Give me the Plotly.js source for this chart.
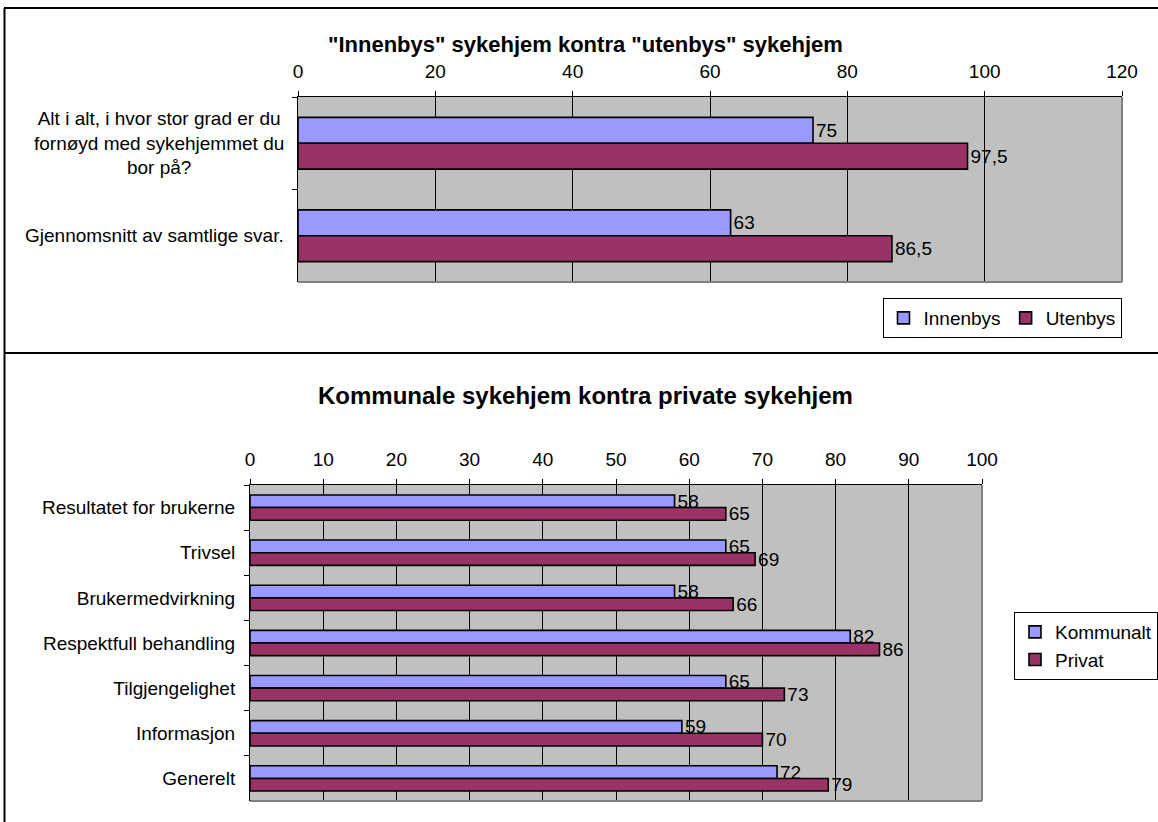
<!DOCTYPE html>
<html><head><meta charset="utf-8">
<script src="https://cdn.plot.ly/plotly-3.0.1.min.js"></script>
<style>html,body{margin:0;padding:0;background:#fff;overflow:hidden}#chart{width:1158px;height:822px}</style>
</head><body><div id="chart"></div>
<script>
// ---- data ----
const topTitle = '"Innenbys" sykehjem kontra "utenbys" sykehjem';
const topCategories = ['Alt i alt, i hvor stor grad er du<br>fornøyd med sykehjemmet du<br>bor på?', 'Gjennomsnitt av samtlige svar.'];
const innenbys = [75, 63];
const utenbys = [97.5, 86.5];
const topSeriesNames = ['Innenbys', 'Utenbys'];

const bottomTitle = 'Kommunale sykehjem kontra private sykehjem';
const bottomCategories = ['Resultatet for brukerne', 'Trivsel', 'Brukermedvirkning', 'Respektfull behandling', 'Tilgjengelighet', 'Informasjon', 'Generelt'];
const kommunalt = [58, 65, 58, 82, 65, 59, 72];
const privat = [65, 69, 66, 86, 73, 70, 79];
const bottomSeriesNames = ['Kommunalt', 'Privat'];

// ---- helpers ----
const W = 1158, H = 822;
const px = p => p / W;
const py = p => 1 - p / H;
const fmt = v => String(v).replace('.', ',');
const FONT = 'Liberation Sans, Arial, sans-serif';
const FS = 19;
const BLUE = '#9999FF', PLUM = '#993366';

function barTrace(name, cats, vals, color, xa, ya, legend) {
  return {
    type: 'bar', orientation: 'h', name: name,
    y: cats, x: vals, xaxis: xa, yaxis: ya, legend: legend,
    text: vals.map(fmt), textposition: 'outside', constraintext: 'none',
    cliponaxis: false,
    textfont: {family: FONT, size: FS, color: '#000'},
    marker: {color: color, line: {color: '#000', width: 1.6}},
    hoverinfo: 'x+name'
  };
}

const data = [
  barTrace(topSeriesNames[0], topCategories, innenbys, BLUE, 'x', 'y', 'legend'),
  barTrace(topSeriesNames[1], topCategories, utenbys, PLUM, 'x', 'y', 'legend'),
  barTrace(bottomSeriesNames[0], bottomCategories, kommunalt, BLUE, 'x2', 'y2', 'legend2'),
  barTrace(bottomSeriesNames[1], bottomCategories, privat, PLUM, 'x2', 'y2', 'legend2')
];

const xCommon = {
  side: 'top', showline: true, linecolor: '#000', linewidth: 1,
  ticks: 'outside', ticklen: 5, tickcolor: '#000', tickwidth: 1,
  ticklabelstandoff: 5,
  showgrid: true, gridcolor: '#000', gridwidth: 1, zeroline: false,
  tickfont: {family: FONT, size: FS, color: '#000'}, fixedrange: true
};
const yCommon = {
  type: 'category', autorange: 'reversed', showline: true, linecolor: '#000', linewidth: 1,
  ticks: 'outside', ticklen: 5, tickcolor: '#000', tickson: 'boundaries',
  showgrid: false, zeroline: false,
  tickfont: {family: FONT, size: FS, color: '#000'}, fixedrange: true
};

const annotations = [
  {text: '<b>' + topTitle + '</b>', xref: 'paper', yref: 'paper', x: px(585), y: py(45),
   xanchor: 'center', yanchor: 'middle', showarrow: false, font: {family: FONT, size: 22, color: '#000'}},
  {text: '<b>' + bottomTitle + '</b>', xref: 'paper', yref: 'paper', x: px(586), y: py(395),
   xanchor: 'center', yanchor: 'middle', showarrow: false, font: {family: FONT, size: 24, color: '#000'}}
];
topCategories.forEach((c, i) => {
  annotations.push({text: c, xref: 'paper', yref: 'y', x: px(286), y: i,
    xanchor: 'right', yanchor: 'middle', align: 'center', showarrow: false,
    font: {family: FONT, size: FS, color: '#000'}});
});

const line = (x0, y0, x1, y1, color, w, xref, yref) =>
  ({type: 'line', xref: xref || 'paper', yref: yref || 'paper', x0, y0, x1, y1, layer: 'above',
    line: {color: color, width: w}});

const shapes = [
  // outer frames
  line(px(4), py(8), 1, py(8), '#000', 2),
  line(px(4.5), py(8), px(4.5), 0, '#000', 2),
  line(px(4), py(353), 1, py(353), '#000', 2),
  // plot area grey right/bottom borders
  line(1, 0, 1, 1, '#808080', 2, 'x domain', 'y domain'),
  line(0, 0, 1, 0, '#808080', 2, 'x domain', 'y domain'),
  line(1, 0, 1, 1, '#808080', 2, 'x2 domain', 'y2 domain'),
  line(0, 0, 1, 0, '#808080', 2, 'x2 domain', 'y2 domain')
];

const layout = {
  width: W, height: H, margin: {l: 0, r: 0, t: 0, b: 0},
  paper_bgcolor: '#fff', plot_bgcolor: '#C0C0C0',
  font: {family: FONT, size: FS, color: '#000'},
  barmode: 'group', bargap: 0.44, bargroupgap: 0,
  showlegend: true,
  xaxis: Object.assign({}, xCommon, {domain: [px(298), px(1122)], anchor: 'y', range: [0, 120], dtick: 20}),
  yaxis: Object.assign({}, yCommon, {domain: [py(282), py(97)], anchor: 'x', showticklabels: false}),
  xaxis2: Object.assign({}, xCommon, {domain: [px(250), px(982)], anchor: 'y2', range: [0, 100], dtick: 10}),
  yaxis2: Object.assign({}, yCommon, {domain: [py(801), py(485)], anchor: 'x2', ticklabelstandoff: 10}),
  legend: {x: px(1002), y: py(298), xanchor: 'center', yanchor: 'top', orientation: 'h',
    bgcolor: '#fff', bordercolor: '#000', borderwidth: 1, traceorder: 'normal', itemwidth: 30,
    font: {family: FONT, size: FS, color: '#000'}, itemclick: false, itemdoubleclick: false},
  legend2: {x: px(1086), y: py(612), xanchor: 'center', yanchor: 'top', orientation: 'v',
    bgcolor: '#fff', bordercolor: '#000', borderwidth: 1, traceorder: 'normal', itemwidth: 30,
    font: {family: FONT, size: FS, color: '#000'}, itemclick: false, itemdoubleclick: false},
  annotations: annotations,
  shapes: shapes
};

Plotly.newPlot('chart', data, layout, {displayModeBar: false, staticPlot: true});
</script>
</body></html>
